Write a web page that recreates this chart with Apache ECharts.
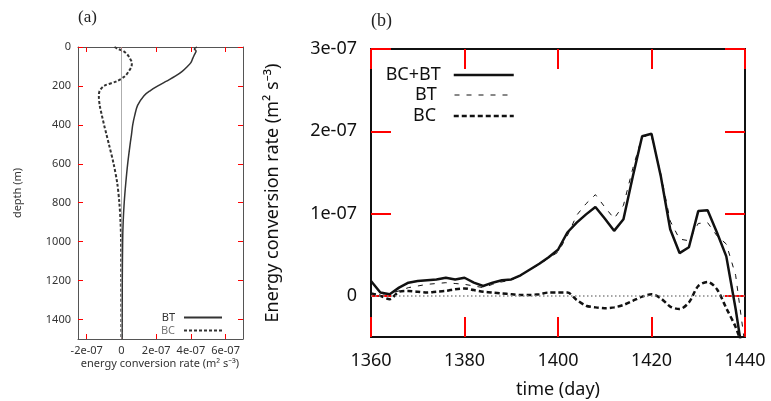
<!DOCTYPE html>
<html>
<head>
<meta charset="utf-8">
<script src="https://cdn.jsdelivr.net/npm/echarts@6/dist/echarts.min.js"></script>
<style>
  html, body { margin: 0; padding: 0; background: #fff; }
  #myChart { width: 771px; height: 401px; }
</style>
</head>
<body>
<div id="myChart"></div>
<script>
// panel (a): vertical profiles, values in units of 1e-7 m^2 s^-3
var depths = [0, 10, 20, 40, 60, 80, 100, 125, 150, 175, 200, 225, 250, 300, 350, 400, 450, 500, 600, 700, 800, 900, 1000, 1200, 1500];
var profileBT = [4.35, 4.2, 4.3, 4.2, 4.1, 4.0, 3.8, 3.5, 3.1, 2.6, 2.1, 1.65, 1.3, 0.93, 0.77, 0.65, 0.58, 0.5, 0.36, 0.25, 0.16, 0.1, 0.07, 0.05, 0.04];
var profileBC = [-0.4, -0.2, 0.1, 0.35, 0.5, 0.6, 0.58, 0.42, 0.2, -0.25, -1.0, -1.25, -1.3, -1.25, -1.13, -1.0, -0.86, -0.72, -0.45, -0.24, -0.12, -0.05, -0.02, -0.01, 0];
var tickValuesA = [-2, 0, 2, 4, 6];
var tickLabelsA = ['-2e-07', '0', '2e-07', '4e-07', '6e-07'];
var depthTicks = [0, 200, 400, 600, 800, 1000, 1200, 1400];

// panel (b): time series, values in units of 1e-8 m^2 s^-3
var days = [1360, 1362, 1364, 1366, 1368, 1370, 1372, 1374, 1376, 1378, 1380, 1382, 1384, 1386, 1388, 1390, 1392, 1394, 1396, 1398, 1400,
            1402, 1404, 1406, 1408, 1410, 1412, 1414, 1416, 1418, 1420, 1422, 1424, 1426, 1428, 1430, 1432, 1434, 1436, 1438, 1440];
var totalBCBT = [1.8, 0.4, 0.2, 1.0, 1.6, 1.8, 1.9, 2.0, 2.2, 2.0, 2.2, 1.6, 1.2, 1.6, 1.9, 2.0, 2.5, 3.2, 3.9, 4.7, 5.6,
                 7.7, 8.9, 9.9, 10.8, 9.4, 7.9, 9.3, 14.5, 19.4, 19.7, 14.5, 8.1, 5.2, 5.9, 10.3, 10.4, 7.7, 4.8, -1.6, -9];
var seriesBT = [0.3, 0.2, 0.3, 0.6, 1.0, 1.2, 1.4, 1.5, 1.6, 1.5, 1.4, 1.2, 1.0, 1.4, 1.7, 1.9, 2.5, 3.2, 3.8, 4.6, 5.3,
                7.3, 9.8, 11.2, 12.3, 10.8, 9.4, 11.0, 15.5, 19.4, 19.4, 14.8, 9.1, 6.9, 6.7, 8.8, 8.9, 7.3, 6.3, 2.5, -6];
var seriesBC = [0.3, 0.0, -0.4, 0.5, 0.6, 0.5, 0.4, 0.5, 0.6, 0.8, 0.9, 0.7, 0.5, 0.4, 0.3, 0.2, 0.1, 0.1, 0.2, 0.4, 0.4,
                0.4, -0.5, -1.2, -1.4, -1.5, -1.4, -1.1, -0.6, -0.1, 0.2, -0.3, -1.3, -1.6, -0.8, 1.2, 1.7, 0.8, -1.5, -3.8, -7];
var tickValuesB = [0, 10, 20, 30];
var tickLabelsB = ['0', '1e-07', '2e-07', '3e-07'];

function pairs(xs, ys) {
  var out = [];
  for (var i = 0; i < xs.length; i++) out.push([xs[i], ys[i]]);
  return out;
}
function labelFor(values, labels) {
  return function (v) {
    for (var i = 0; i < values.length; i++) {
      if (Math.abs(values[i] - v) < 1e-9) return labels[i];
    }
    return '';
  };
}
function plain(v) { return String(v); }

var fontA = { fontFamily: 'Noto Sans', fontSize: 11, color: '#333' };
var fontB = { fontFamily: 'Noto Sans', fontSize: 18, color: '#111' };
var lineA = function () { return { show: true, onZero: false, lineStyle: { color: '#555', width: 1 } }; };
var lineB = function () { return { show: true, onZero: false, lineStyle: { color: '#111', width: 2 } }; };
function tickA(vals) { return { show: true, inside: true, length: 5, lineStyle: { color: 'red', width: 1 }, customValues: vals }; }
function tickB(vals) { return { show: true, inside: true, length: 20, lineStyle: { color: 'red', width: 2 }, customValues: vals }; }
var hideSymbol = { opacity: 0 };

var myChart = echarts.init(document.getElementById('myChart'));
myChart.setOption({
  animation: false,
  backgroundColor: '#fff',
  grid: [
    { left: 78, top: 47, width: 165, height: 292 },
    { left: 371, top: 49, width: 374, height: 288 }
  ],
  xAxis: [
    {
      gridIndex: 0, type: 'value', min: -2.5, max: 7, position: 'bottom',
      axisLine: lineA(), splitLine: { show: false }, axisTick: tickA(tickValuesA),
      axisLabel: Object.assign({ margin: 6, customValues: tickValuesA, formatter: labelFor(tickValuesA, tickLabelsA) }, fontA)
    },
    {
      gridIndex: 0, type: 'value', min: -2.5, max: 7, position: 'top',
      axisLine: lineA(), splitLine: { show: false }, axisTick: tickA(tickValuesA),
      axisLabel: { show: false, customValues: tickValuesA }
    },
    {
      gridIndex: 1, type: 'value', min: 1360, max: 1440, interval: 20, position: 'bottom',
      axisLine: lineB(), splitLine: { show: false }, axisTick: tickB(null),
      axisLabel: Object.assign({ margin: 15, formatter: plain }, fontB)
    },
    {
      gridIndex: 1, type: 'value', min: 1360, max: 1440, interval: 20, position: 'top',
      axisLine: lineB(), splitLine: { show: false }, axisTick: tickB(null),
      axisLabel: { show: false }
    }
  ],
  yAxis: [
    {
      gridIndex: 0, type: 'value', min: 0, max: 1500, inverse: true, position: 'left',
      axisLine: lineA(), splitLine: { show: false }, axisTick: tickA(depthTicks),
      axisLabel: Object.assign({ margin: 7, customValues: depthTicks, formatter: plain }, fontA)
    },
    {
      gridIndex: 0, type: 'value', min: 0, max: 1500, inverse: true, position: 'right',
      axisLine: lineA(), splitLine: { show: false }, axisTick: tickA(depthTicks),
      axisLabel: { show: false, customValues: depthTicks }
    },
    {
      gridIndex: 1, type: 'value', min: -5, max: 30, position: 'left',
      axisLine: lineB(), splitLine: { show: false }, axisTick: tickB(tickValuesB),
      axisLabel: Object.assign({ margin: 14, customValues: tickValuesB, formatter: labelFor(tickValuesB, tickLabelsB) }, fontB)
    },
    {
      gridIndex: 1, type: 'value', min: -5, max: 30, position: 'right',
      axisLine: lineB(), splitLine: { show: false }, axisTick: tickB(tickValuesB),
      axisLabel: { show: false, customValues: tickValuesB }
    }
  ],
  legend: [
    {
      data: ['BT'], orient: 'vertical', right: 543, top: 307, itemWidth: 38, itemHeight: 12, align: 'right',
      textStyle: { fontFamily: 'Noto Sans', fontSize: 11, color: '#333', padding: [0, 4, 0, 0] },
      itemStyle: hideSymbol, lineStyle: { width: 2, color: '#333', type: 'solid' }
    },
    {
      data: ['BC'], orient: 'vertical', right: 543, top: 320, itemWidth: 38, itemHeight: 12, align: 'right',
      textStyle: { fontFamily: 'Noto Sans', fontSize: 11, color: '#777', padding: [0, 4, 0, 0] },
      itemStyle: hideSymbol, lineStyle: { width: 2, color: '#333', type: [3, 2] }
    },
    {
      data: ['BC+BT'], orient: 'vertical', right: 251, top: 61, itemWidth: 60, itemHeight: 18, align: 'right',
      textStyle: { fontFamily: 'Noto Sans', fontSize: 18, color: '#111', padding: [0, 8, 0, 0] },
      itemStyle: hideSymbol, lineStyle: { width: 2.5, color: '#111', type: 'solid' }
    },
    {
      data: ['BT '], orient: 'vertical', right: 251, top: 81, itemWidth: 60, itemHeight: 18, align: 'right',
      textStyle: { fontFamily: 'Noto Sans', fontSize: 18, color: '#111', padding: [0, 8, 0, 0] },
      itemStyle: hideSymbol, lineStyle: { width: 1, color: '#111', type: [5, 7] }
    },
    {
      data: ['BC '], orient: 'vertical', right: 251, top: 102, itemWidth: 60, itemHeight: 18, align: 'right',
      textStyle: { fontFamily: 'Noto Sans', fontSize: 18, color: '#111', padding: [0, 8, 0, 0] },
      itemStyle: hideSymbol, lineStyle: { width: 2.5, color: '#111', type: [5, 3] }
    }
  ],
  graphic: [
    { type: 'text', left: 78, top: 9, style: { text: '(a)', font: '17px "Liberation Serif"', fill: '#222' } },
    { type: 'text', left: 371, top: 12, style: { text: '(b)', font: '18px "Liberation Serif"', fill: '#222' } },
    { type: 'text', x: 18, y: 193, rotation: Math.PI / 2,
      style: { text: 'depth (m)', font: '11px "Noto Sans"', fill: '#333', align: 'center', verticalAlign: 'middle' } },
    { type: 'text', x: 160, y: 364,
      style: { text: 'energy conversion rate (m² s⁻³)', font: '11px "Noto Sans"', fill: '#333', align: 'center', verticalAlign: 'middle' } },
    { type: 'text', x: 273, y: 193, rotation: Math.PI / 2,
      style: { text: 'Energy conversion rate (m² s⁻³)', font: '18px "Noto Sans"', fill: '#111', align: 'center', verticalAlign: 'middle' } },
    { type: 'text', x: 558, y: 390,
      style: { text: 'time (day)', font: '18px "Noto Sans"', fill: '#111', align: 'center', verticalAlign: 'middle' } }
  ],
  series: [
    {
      name: 'BT', type: 'line', xAxisIndex: 0, yAxisIndex: 0, data: pairs(profileBT, depths),
      symbol: 'none', smooth: 0.3, lineStyle: { color: '#333', width: 1.5 },
      markLine: {
        silent: true, symbol: 'none', label: { show: false },
        lineStyle: { color: '#999', width: 0.8, type: 'solid' },
        data: [{ xAxis: 0 }]
      }
    },
    {
      name: 'BC', type: 'line', xAxisIndex: 0, yAxisIndex: 0, data: pairs(profileBC, depths),
      symbol: 'none', smooth: 0.3, lineStyle: { color: '#333', width: 2, type: [3, 2] }
    },
    {
      name: 'BC+BT', type: 'line', xAxisIndex: 2, yAxisIndex: 2, data: pairs(days, totalBCBT),
      symbol: 'none', lineStyle: { color: '#111', width: 2.5 }, z: 4,
      markLine: {
        silent: true, symbol: 'none', label: { show: false },
        lineStyle: { color: '#888', width: 1.5, type: [1.5, 2.5] },
        data: [{ yAxis: 0 }]
      }
    },
    {
      name: 'BT ', type: 'line', xAxisIndex: 2, yAxisIndex: 2, data: pairs(days, seriesBT),
      symbol: 'none', lineStyle: { color: '#111', width: 1, type: [5, 7] }, z: 3
    },
    {
      name: 'BC ', type: 'line', xAxisIndex: 2, yAxisIndex: 2, data: pairs(days, seriesBC),
      symbol: 'none', smooth: 0.3, lineStyle: { color: '#111', width: 2.5, type: [5, 3] }, z: 3
    }
  ]
});
</script>
</body>
</html>
